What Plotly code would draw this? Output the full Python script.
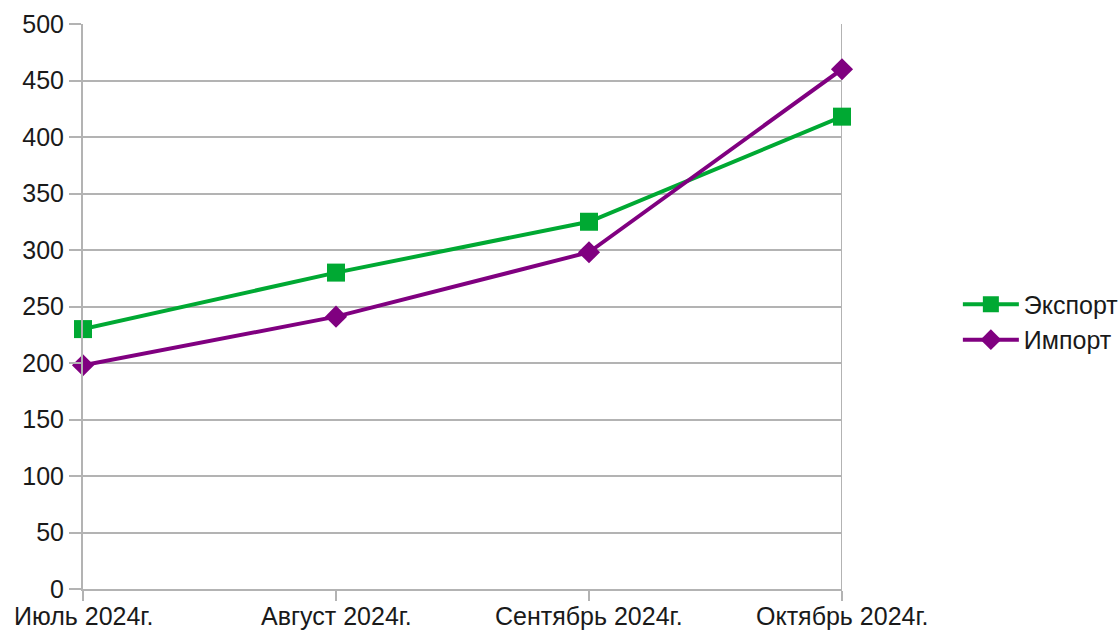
import plotly.graph_objects as go

months = ["Июль 2024г.", "Август 2024г.", "Сентябрь 2024г.", "Октябрь 2024г."]
export_vals = [230, 280, 325, 418]
import_vals = [198, 241, 298, 460]
y_ticks = [0, 50, 100, 150, 200, 250, 300, 350, 400, 450, 500]

GRID = "#b3b3b3"
FONT = dict(family="Liberation Sans, Arial, sans-serif", size=25, color="#1a1a1a")

xs = list(range(len(months)))

fig = go.Figure()
fig.add_trace(go.Scatter(
    x=xs, y=export_vals, name="Экспорт",
    mode="lines+markers", cliponaxis=False,
    line=dict(color="#00a933", width=4),
    marker=dict(symbol="square", size=18, color="#00a933"),
))
fig.add_trace(go.Scatter(
    x=xs, y=import_vals, name="Импорт",
    mode="lines+markers", cliponaxis=False,
    line=dict(color="#800080", width=4),
    marker=dict(symbol="diamond", size=17, color="#800080"),
))

fig.update_layout(
    width=1119, height=630,
    margin=dict(l=83, r=277, t=24, b=41, autoexpand=False),
    paper_bgcolor="white", plot_bgcolor="white",
    font=FONT,
    showlegend=True,
    legend=dict(
        xref="container", yref="container",
        x=0.856, y=0.489, xanchor="left", yanchor="middle",
        itemwidth=56, tracegroupgap=0,
        font=FONT,
    ),
)
fig.update_xaxes(
    range=[0, 3], tickmode="array", tickvals=xs,
    showticklabels=False,
    showgrid=False, showline=True, linecolor=GRID, linewidth=2,
    mirror=False, ticks="outside", ticklen=10, tickcolor=GRID, tickwidth=2,
    zeroline=False, fixedrange=True, automargin=False,
)
fig.update_yaxes(
    range=[0, 500], tickmode="array", tickvals=y_ticks,
    showgrid=True, gridcolor=GRID, gridwidth=2,
    showline=True, linecolor=GRID, linewidth=2,
    ticks="outside", ticklen=12, tickcolor=GRID, tickwidth=2,
    zeroline=False, fixedrange=True, automargin=False,
)
# right border of the plot area
fig.add_shape(type="line", xref="x", yref="paper", x0=3, x1=3, y0=0, y1=1,
              line=dict(color=GRID, width=2), layer="below")

# category labels under the x axis, kept tight to the ticks
for xv, label in zip(xs, months):
    fig.add_annotation(
        x=xv, y=0, xref="x", yref="paper", text=label, showarrow=False,
        xanchor="center", yanchor="middle", yshift=-27, font=FONT,
    )

fig.write_html("out.html")
